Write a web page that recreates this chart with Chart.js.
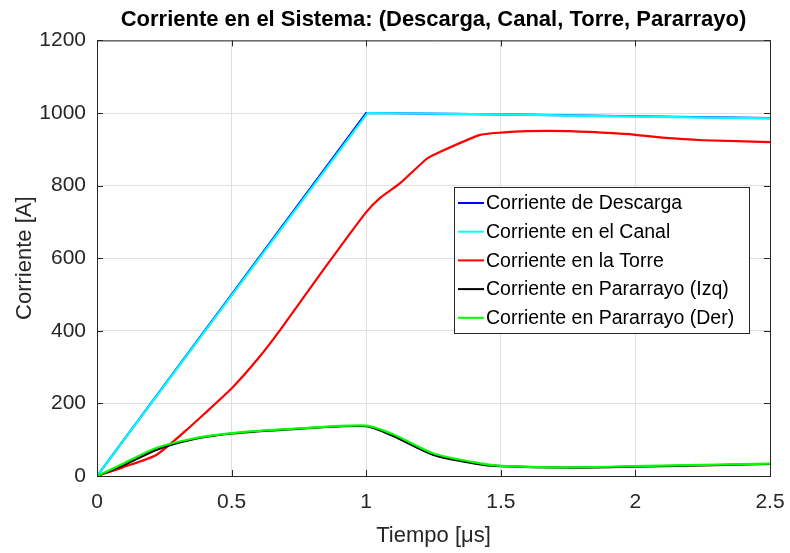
<!DOCTYPE html>
<html>
<head>
<meta charset="utf-8">
<script src="https://cdn.jsdelivr.net/npm/chart.js@4/dist/chart.umd.min.js"></script>
<style>
  html, body { margin: 0; padding: 0; background: #fff; }
  #wrap { width: 790px; height: 553px; }
</style>
</head>
<body>
<div id="wrap"><canvas id="chart" width="790" height="553"></canvas></div>
<script>
// tiempo en microsegundos
const tDescarga = [0, 1, 1.5, 2, 2.5];
const iDescarga = [0, 1000, 996, 991, 986];
const tCanal = [0, 1.005, 1.5, 2, 2.5];
const iCanal = [0, 1000, 996, 990, 985];
const tTorre = [0, 0.1, 0.22, 0.333, 0.4, 0.506, 0.6, 0.68, 0.84, 1.0, 1.05, 1.125, 1.225, 1.26, 1.42, 1.5, 1.6, 1.75, 1.9, 2.0, 2.1, 2.25, 2.5];
const iTorre = [0, 25, 58, 127, 172, 246, 325, 402, 567, 727, 765, 806, 874, 888, 939, 946, 950, 950, 945, 940, 932, 925, 920];
const tPara = [0, 0.1, 0.22, 0.35, 0.5, 0.75, 1.0, 1.1, 1.25, 1.4, 1.5, 1.75, 2.0, 2.5];
const iIzq = [0, 30, 72, 100, 117, 130, 137, 110, 58, 35, 27, 23, 26, 33];
const iDer = [0, 35, 77, 102, 118, 131, 139, 115, 62, 38, 28, 24, 27, 34];

const xTicks = [0, 0.5, 1, 1.5, 2, 2.5];
const yTicks = [0, 200, 400, 600, 800, 1000, 1200];

function pts(xs, ys) {
    return xs.map((x, i) => ({ x: x, y: ys[i] }));
}

const font = "'Liberation Sans', Arial, sans-serif";

// MATLAB-like box, inward ticks and legend inside the axes
const matlabBox = {
    id: 'matlabBox',
    afterDraw(chart) {
        const ctx = chart.ctx;
        const a = chart.chartArea;
        const xs = chart.scales.x, ys = chart.scales.y;
        ctx.save();
        ctx.strokeStyle = '#262626';
        ctx.lineWidth = 1;
        ctx.strokeRect(a.left + 0.5, a.top + 0.5, a.right - a.left, a.bottom - a.top);
        ctx.beginPath();
        xTicks.forEach(v => {
            const p = Math.round(xs.getPixelForValue(v)) + 0.5;
            ctx.moveTo(p, a.bottom); ctx.lineTo(p, a.bottom - 6);
            ctx.moveTo(p, a.top); ctx.lineTo(p, a.top + 6);
        });
        yTicks.forEach(v => {
            const p = Math.round(ys.getPixelForValue(v)) + 0.5;
            ctx.moveTo(a.left, p); ctx.lineTo(a.left + 6, p);
            ctx.moveTo(a.right, p); ctx.lineTo(a.right - 6, p);
        });
        ctx.stroke();

        // legend
        const lx = 454, ly = 187, lw = 295, lh = 146;
        ctx.fillStyle = '#fff';
        ctx.fillRect(lx, ly, lw, lh);
        ctx.strokeStyle = '#262626';
        ctx.strokeRect(lx + 0.5, ly + 0.5, lw, lh);
        ctx.font = '19.5px ' + font;
        ctx.textBaseline = 'middle';
        chart.data.datasets.forEach((ds, i) => {
            const y = ly + 16 + i * 28.7;
            ctx.strokeStyle = ds.borderColor;
            ctx.lineWidth = 2;
            ctx.beginPath();
            ctx.moveTo(lx + 4, y); ctx.lineTo(lx + 30, y);
            ctx.stroke();
            ctx.fillStyle = '#000';
            ctx.fillText(ds.label, lx + 32, y + 1);
        });
        ctx.restore();
    }
};

const styles = [
    { borderColor: '#0000ff', tension: 0, order: 5 },
    { borderColor: '#00ffff', tension: 0, order: 4 },
    { borderColor: '#ff0000', tension: 0.2, order: 3 },
    { borderColor: '#000000', tension: 0.25, order: 2 },
    { borderColor: '#00ff00', tension: 0.25, order: 1 }
];

new Chart(document.getElementById('chart').getContext('2d'), {
    type: 'scatter',
    data: {
        datasets: [
            { label: 'Corriente de Descarga', data: pts(tDescarga, iDescarga) },
            { label: 'Corriente en el Canal', data: pts(tCanal, iCanal) },
            { label: 'Corriente en la Torre', data: pts(tTorre, iTorre) },
            { label: 'Corriente en Pararrayo (Izq)', data: pts(tPara, iIzq) },
            { label: 'Corriente en Pararrayo (Der)', data: pts(tPara, iDer) }
        ].map((d, i) => Object.assign(d, styles[i], {
            showLine: true, pointRadius: 0, borderWidth: 2.2
        }))
    },
    options: {
        responsive: false,
        animation: false,
        layout: { padding: { top: 0, right: 20, bottom: 0, left: 0 } },
        plugins: {
            legend: { display: false },
            tooltip: { enabled: false },
            title: {
                display: true,
                fullSize: false,
                text: 'Corriente en el Sistema: (Descarga, Canal, Torre, Pararrayo)',
                color: '#000',
                font: { family: font, size: 22, weight: 'bold' },
                padding: { top: 7, bottom: 7 }
            }
        },
        scales: {
            x: {
                type: 'linear', min: 0, max: 2.5,
                afterBuildTicks: s => { s.ticks = xTicks.map(v => ({ value: v })); },
                afterFit: s => { s.height = 77; s.paddingRight = 0; s.paddingLeft = 0; },
                grid: { color: '#dfdfdf', drawTicks: false },
                border: { display: false },
                ticks: { color: '#262626', font: { family: font, size: 21 }, padding: 14, callback: v => String(v) },
                title: { display: true, text: 'Tiempo [\u03bcs]', color: '#262626', font: { family: font, size: 22 }, padding: { top: 0 } }
            },
            y: {
                type: 'linear', min: 0, max: 1200,
                afterBuildTicks: s => { s.ticks = yTicks.map(v => ({ value: v })); },
                afterFit: s => { s.width = 97; s.paddingTop = 0; s.paddingBottom = 0; },
                grid: { color: '#dfdfdf', drawTicks: false },
                border: { display: false },
                ticks: { color: '#262626', font: { family: font, size: 21 }, padding: 11, callback: v => String(v) },
                title: { display: true, text: 'Corriente [A]', color: '#262626', font: { family: font, size: 22 }, padding: { top: 12, bottom: 4 } }
            }
        }
    },
    plugins: [matlabBox]
});
</script>
</body>
</html>
